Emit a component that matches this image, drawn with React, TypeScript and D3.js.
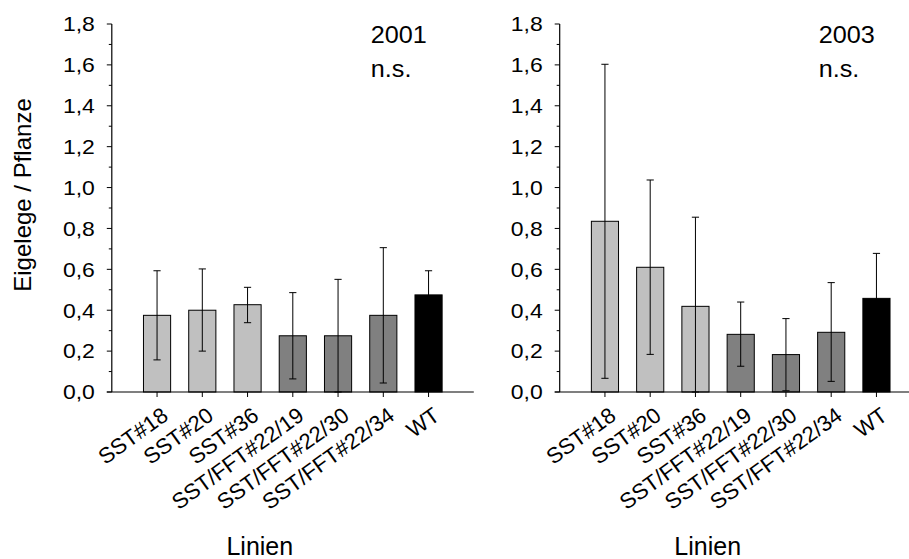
import React from "react";
import * as d3 from "d3";

const categories = ["SST#18", "SST#20", "SST#36", "SST/FFT#22/19", "SST/FFT#22/30", "SST/FFT#22/34", "WT"];
const groups = ["SST", "SST", "SST", "SST/FFT", "SST/FFT", "SST/FFT", "WT"];

const mean2001 = [0.375, 0.40, 0.427, 0.275, 0.275, 0.375, 0.475];
const upper2001 = [0.593, 0.602, 0.512, 0.486, 0.551, 0.706, 0.593];
const lower2001 = [0.157, 0.200, 0.339, 0.064, 0.0, 0.044, 0.357];

const mean2003 = [0.835, 0.61, 0.419, 0.282, 0.183, 0.292, 0.458];
const upper2003 = [1.603, 1.037, 0.855, 0.44, 0.359, 0.535, 0.678];
const lower2003 = [0.067, 0.184, 0.0, 0.126, 0.006, 0.052, 0.238];

const yTicks = [0, 0.2, 0.4, 0.6, 0.8, 1.0, 1.2, 1.4, 1.6, 1.8];
const yMinor = [0.1, 0.3, 0.5, 0.7, 0.9, 1.1, 1.3, 1.5, 1.7];

const panelYears = ["2001", "2003"];
const sigText = "n.s.";
const yTitle = "Eigelege / Pflanze";
const xTitle = "Linien";

const FONT = "'Liberation Sans', Arial, Helvetica, sans-serif";
const colorScale = d3.scaleOrdinal<string, string>().domain(["SST", "SST/FFT", "WT"]).range(["#c0c0c0", "#808080", "#000000"]);
const fmt = (v: number) => d3.format(".1f")(v).replace(".", ",");

function Panel({ x0, year, means, uppers, lowers }: { x0: number; year: string; means: number[]; uppers: number[]; lowers: number[] }) {
  const step = 45.25;
  const x = d3.scaleLinear().domain([0, 8]).range([x0, x0 + 8 * step]);
  const y = d3.scaleLinear().domain([0, 1.8]).range([392, 24]);
  const bw = step * 0.6;
  const cap = 3.6;
  return (
    <g fontFamily={FONT}>
      {means.map((m, i) => (
        <rect key={"b" + i} x={x(i + 1) - bw / 2} y={y(m)} width={bw} height={y(0) - y(m)}
          fill={colorScale(groups[i])} stroke="#000" strokeWidth={1} />
      ))}
      {means.map((m, i) => {
        const cx = x(i + 1);
        return (
          <g key={"e" + i} stroke="#000" strokeWidth={1}>
            <line x1={cx} x2={cx} y1={y(uppers[i])} y2={y(lowers[i])} />
            <line x1={cx - cap} x2={cx + cap} y1={y(uppers[i])} y2={y(uppers[i])} />
            <line x1={cx - cap} x2={cx + cap} y1={y(lowers[i])} y2={y(lowers[i])} />
          </g>
        );
      })}
      <line x1={x0} x2={x0} y1={y(1.8)} y2={y(0)} stroke="#000" strokeWidth={1.2} />
      <line x1={x0 - 5} x2={x(8)} y1={y(0)} y2={y(0)} stroke="#000" strokeWidth={1.2} />
      {yTicks.map((t) => (
        <g key={"t" + t}>
          <line x1={x0 - 5} x2={x0} y1={y(t)} y2={y(t)} stroke="#000" strokeWidth={1} />
          <text transform={`translate(${x0 - 17},${y(t) + 7.3}) scale(1.12,1)`} textAnchor="end" fontSize={20.5} fill="#000">{fmt(t)}</text>
        </g>
      ))}
      {yMinor.map((t) => (
        <line key={"m" + t} x1={x0 - 3} x2={x0} y1={y(t)} y2={y(t)} stroke="#000" strokeWidth={1} />
      ))}
      {categories.map((c, i) => {
        const cx = x(i + 1);
        return (
          <g key={"c" + i}>
            <line x1={cx} x2={cx} y1={y(0)} y2={y(0) + 5} stroke="#000" strokeWidth={1} />
            <text transform={`translate(${cx + 12.5},${y(0) + 26.5}) rotate(-36)`} textAnchor="end" fontSize={22} fill="#000">{c}</text>
          </g>
        );
      })}
      <text x={x0 + 148} y={555} textAnchor="middle" fontSize={25} fill="#000">{xTitle}</text>
      <text transform={`translate(${x0 + 259},43) scale(1.05,1)`} fontSize={24} fill="#000">{year}</text>
      <text transform={`translate(${x0 + 259},76.5) scale(1.05,1)`} fontSize={24} fill="#000">{sigText}</text>
    </g>
  );
}

export default function App() {
  return (
    <svg width={909} height={559} style={{ position: "absolute", left: 0, top: 0, background: "#fff" }}>
      <rect width={909} height={559} fill="#fff" />
      <Panel x0={111.8} year={panelYears[0]} means={mean2001} uppers={upper2001} lowers={lower2001} />
      <Panel x0={559.7} year={panelYears[1]} means={mean2003} uppers={upper2003} lowers={lower2003} />
      <text transform="translate(31,195) rotate(-90)" textAnchor="middle" fontSize={24} fontFamily={FONT} fill="#000">{yTitle}</text>
    </svg>
  );
}
